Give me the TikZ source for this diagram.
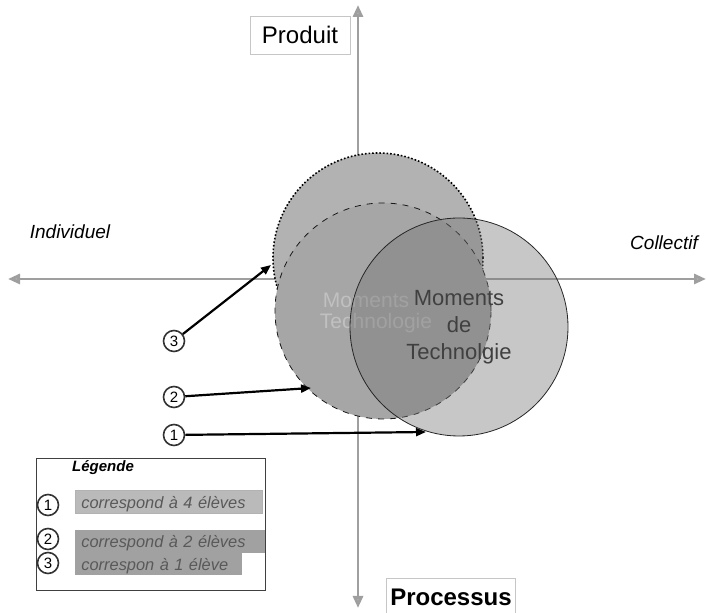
\documentclass[tikz,border=0pt]{standalone}
\usepackage{fontspec}
\setmainfont{Liberation Sans}
\usetikzlibrary{arrows.meta}
\tikzset{
  axe/.style={draw=gray!75, line width=1.4pt,
    {Triangle[length=6pt,width=5pt,fill=gray!60]}-{Triangle[length=6pt,width=5pt,fill=gray!60]}},
  pole/.style={draw=gray!45, fill=white, minimum height=19pt, inner sep=2pt,
    font=\fontsize{12}{14}\selectfont},
  cote/.style={font=\fontsize{9.5}{11}\selectfont\itshape},
  disque/.style={circle, inner sep=0pt},
  fantome/.style={text=white, font=\fontsize{10.5}{12}\selectfont, opacity=0.3},
  num/.style={circle, draw=black!80, fill=white, thick, inner sep=0pt, minimum size=10.5pt,
    font=\fontsize{7.5}{8}\selectfont},
  fleche/.style={line width=1.1pt, -{Triangle[length=5pt,width=4pt]}},
  bande/.style={anchor=west, inner sep=0pt, text depth=0pt, minimum height=11.5pt, align=left,
    text=black!65, font=\fontsize{8.2}{9}\selectfont\itshape}
}
\begin{document}
\begin{tikzpicture}[x=0.5pt, y=-0.5pt]
  \useasboundingbox (0,0) rectangle (707,613);
  \coordinate (haut) at (358,5); \coordinate (bas) at (358,608);
  \coordinate (gauche) at (8,279); \coordinate (droite) at (706,279);
  \draw[axe] (bas) -- (haut);
  \draw[axe] (gauche) -- (droite);
  \node[pole, minimum width=50pt] (produit) at (300,35) {Produit};
  \node[pole, minimum width=61pt, font=\fontsize{12}{14}\selectfont\bfseries] (processus) at (451,597) {Processus};
  \node[cote] (indiv) at (70,232) {Individuel};
  \node[cote] (coll) at (664,243) {Collectif};

  \node[disque, minimum size=105pt, fill=black!30, draw=black, densely dotted, thick] (c3) at (378,258) {};
  \node[disque, minimum size=108pt, fill=black!35, draw=black!90, dashed] (c2) at (383,311) {};
  \node[fantome] (fantome1) at (366,300) {Moments};
  \node[fantome] (fantome2) at (376,323) {Technologie};
  \node[disque, minimum size=109pt, fill=black!55, fill opacity=0.4, draw=black!85] (c1) at (459,327) {};
  \node[align=center, text=black!75, font=\fontsize{11}{13.5}\selectfont] (moments) at (459,327) {Moments\\de\\Technolgie};

  \node[num] (n3) at (174,341) {3};
  \node[num] (n2) at (174,397) {2};
  \node[num] (n1) at (174,435) {1};
  \coordinate (t3) at (271,265); \coordinate (t2) at (311,388); \coordinate (t1) at (426,432);
  \draw[fleche] (n3) -- (t3);
  \draw[fleche] (n2) -- (t2);
  \draw[fleche] (n1) -- (t1);

  \node[draw=black!75, minimum width=114.5pt, minimum height=66pt] (legende) at (150.5,524) {};
  \node[font=\fontsize{7.5}{9}\selectfont\bfseries\itshape] (titre) at (103,468) {Légende};
  \node[num] (l1) at (48,505) {1};
  \node[num] (l2) at (48,539) {2};
  \node[num] (l3) at (48,563) {3};
  \node[bande, fill=black!27, draw=black!30, text width=93.5pt] (b1) at (75,502) {\hspace{3pt}correspond à 4 élèves};
  \node[bande, fill=black!37, text width=95pt] (b2) at (75,541.5) {\hspace{3pt}correspond à 2 élèves};
  \node[bande, fill=black!37, text width=83.5pt, minimum height=11pt] (b3) at (75,564) {\hspace{3pt}correspon à 1 élève};
\end{tikzpicture}
\end{document}
